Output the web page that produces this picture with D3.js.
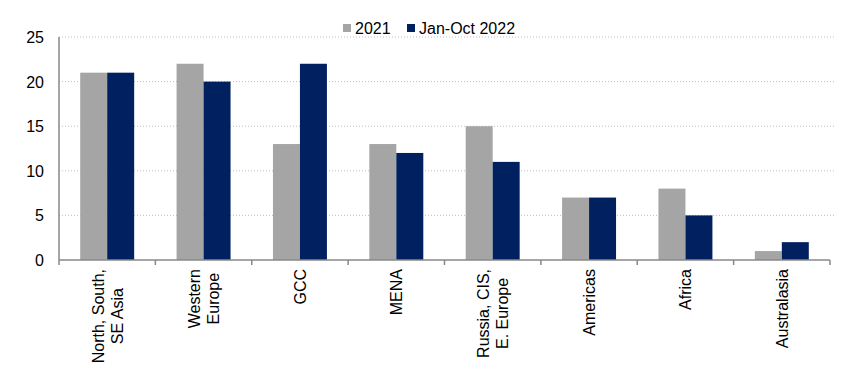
<!DOCTYPE html>
<html>
<head>
<meta charset="utf-8">
<script src="https://cdn.jsdelivr.net/npm/d3@7"></script>
<style>
body { margin: 0; background: #fff; }
text { font-family: Arial, "Liberation Sans", sans-serif; fill: #000; }
</style>
</head>
<body>
<script>
// data
var regions = [["North, South,", "SE Asia"], ["Western", "Europe"], ["GCC"], ["MENA"],
    ["Russia, CIS,", "E. Europe"], ["Americas"], ["Africa"], ["Australasia"]];
var series = ["2021", "Jan-Oct 2022"];
var vals2021 = [21, 22, 13, 13, 15, 7, 8, 1];
var vals2022 = [21, 20, 22, 12, 11, 7, 5, 2];
var yTicks = [0, 5, 10, 15, 20, 25];
var colors = ["#a5a5a5", "#002060"];

var width = 855, height = 375;
var plotLeft = 59, plotRight = 830, plotTop = 37, plotBottom = 260;
var fontSize = "16px";

var svg = d3.select("body").append("svg")
    .attr("width", width)
    .attr("height", height);

var x = d3.scaleBand()
    .domain(d3.range(regions.length))
    .range([plotLeft, plotRight])
    .paddingInner(0.44)
    .paddingOuter(0.22);
var xs = d3.scaleBand()
    .domain([0, 1])
    .range([0, x.bandwidth()]);
var y = d3.scaleLinear().domain([0, 25]).range([plotBottom, plotTop]);

//dotted gridlines
svg.selectAll(".grid")
    .data(yTicks.filter(function(d){ return d > 0; }))
    .enter().append("line")
    .attr("x1", plotLeft).attr("x2", plotRight + 5)
    .attr("y1", function(d){ return y(d); })
    .attr("y2", function(d){ return y(d); })
    .attr("stroke", "#bfbfbf")
    .attr("stroke-dasharray", "1,2");

//y labels
svg.selectAll(".ylab")
    .data(yTicks)
    .enter().append("text")
    .attr("x", 44)
    .attr("y", function(d){ return y(d) + 6; })
    .attr("text-anchor", "end")
    .style("font-size", fontSize)
    .text(function(d){ return d; });

//bars
var all = [vals2021, vals2022];
all.forEach(function(vals, s){
    svg.selectAll(".bar" + s)
        .data(vals)
        .enter().append("rect")
        .attr("x", function(d, i){ return x(i) + xs(s); })
        .attr("width", xs.bandwidth())
        .attr("y", function(d){ return y(d); })
        .attr("height", function(d){ return plotBottom - y(d); })
        .attr("fill", colors[s]);
});

//axes lines
svg.append("line")
    .attr("x1", plotLeft).attr("x2", plotLeft)
    .attr("y1", plotTop).attr("y2", plotBottom)
    .attr("stroke", "#888").attr("stroke-width", 1.5);
svg.append("line")
    .attr("x1", plotLeft).attr("x2", plotRight)
    .attr("y1", plotBottom).attr("y2", plotBottom)
    .attr("stroke", "#888").attr("stroke-width", 1.5);
var step = (plotRight - plotLeft) / regions.length;
svg.selectAll(".xtick")
    .data(d3.range(regions.length + 1))
    .enter().append("line")
    .attr("x1", function(d){ return plotLeft + d * step; })
    .attr("x2", function(d){ return plotLeft + d * step; })
    .attr("y1", plotBottom).attr("y2", plotBottom + 5)
    .attr("stroke", "#888").attr("stroke-width", 1.5);

//category labels, rotated, block top at y=269
regions.forEach(function(lines, i){
    var cx = x(i) + x.bandwidth() / 2;
    var g = svg.append("g");
    var n = lines.length, lh = 19;
    var texts = lines.map(function(t){
        return g.append("text")
            .style("font-size", fontSize)
            .attr("text-anchor", "middle")
            .text(t);
    });
    var maxLen = d3.max(texts, function(t){ return t.node().getComputedTextLength(); });
    var cy = 269 + maxLen / 2;
    texts.forEach(function(t, k){
        var lx = cx + (k - (n - 1) / 2) * lh + 6;
        t.attr("transform", "translate(" + lx + "," + cy + ") rotate(-90)");
    });
});

//legend
var lg = svg.append("g");
var legX = [343, 407];
series.forEach(function(s, i){
    lg.append("rect")
        .attr("x", legX[i]).attr("y", 24)
        .attr("width", 8).attr("height", 8)
        .attr("fill", colors[i]);
    lg.append("text")
        .attr("x", legX[i] + 12).attr("y", 33.5)
        .style("font-size", fontSize)
        .text(s);
});
</script>
</body>
</html>
